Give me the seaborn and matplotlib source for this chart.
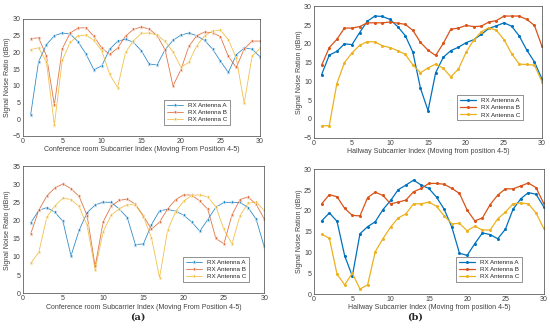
import numpy as np
import seaborn as sns
import matplotlib.pyplot as plt

sns.set_style("white")
plt.rcParams['font.family'] = ['Liberation Sans', 'DejaVu Sans']

# subcarrier index
idx = np.arange(1, 31)
labels = ['RX Antenna A', 'RX Antenna B', 'RX Antenna C']
colors = ['#0072BD', '#D95319', '#EDB120']

# conference room, top
conf1_a = [1.3, 17.2, 22.3, 25, 25.8, 25.5, 23.2, 19.5, 14.8, 16, 21, 23.3, 24, 23, 20.5,
           16.5, 16.3, 20.8, 23.6, 25.2, 25.8, 25, 23.6, 21, 17.4, 14, 19.3, 21.3, 21, 18.7]
conf1_b = [24.1, 24.4, 19, 4.3, 21.1, 25.8, 27.3, 27.4, 24.8, 21.3, 19.4, 21.3, 24.9, 26.9, 27.6,
           27, 25, 20.8, 10, 14.8, 21.8, 25, 26.1, 25.9, 24.7, 18.8, 15.5, 21, 23.4, 23.4]
conf1_c = [20.8, 21.4, 17.1, -1.7, 17.6, 23, 25, 25.2, 23.6, 20.5, 13.4, 9.5, 20, 23.5, 25.7,
           25.8, 25.2, 23.3, 20.2, 15.6, 17, 22, 25, 26.4, 26.7, 23.8, 18.3, 4.8, 18.8, 21.2]

# hallway, top
hall1_a = [11.8, 17, 18, 20, 19.8, 23, 26, 27.4, 27.3, 26.5, 24.6, 22.2, 17.8, 8.2, 2.2,
           12.3, 16.4, 18.2, 19.1, 20.3, 21.1, 22.5, 24.1, 24.8, 25.6, 24.7, 22.1, 18.3, 15.2, 10.6]
hall1_b = [14.3, 19, 21.2, 24.2, 24.2, 24.6, 25.6, 25.6, 25.6, 25.8, 25.5, 25.2, 23.6, 20.4, 18.3,
           16.9, 20.1, 23.9, 24.2, 24.9, 24.6, 24.7, 25.8, 26.2, 27.4, 27.4, 27.4, 26.5, 24.9, 19.3]
hall1_c = [-1.8, -1.8, 9.4, 15, 17.6, 19.6, 20.6, 20.5, 19.5, 19, 18.2, 17.2, 14.4, 12.3, 13.6,
           14.6, 13.5, 11.2, 13.3, 17.7, 21, 23.2, 24.3, 23.6, 21.1, 17.4, 14.6, 14.5, 14.3, 9.9]

# conference room, bottom
conf2_a = [19.4, 22.8, 23.6, 22.3, 19.8, 10.3, 17.3, 22.2, 24.3, 25.1, 25, 23.2, 20.8, 13.4, 13.6,
           18.9, 22.7, 23.1, 22.6, 21.5, 19.6, 17.1, 20.3, 23.7, 25, 25, 25, 23.6, 20.4, 12.9]
conf2_b = [16.4, 22.9, 26.8, 29, 30.1, 28.8, 26.7, 21.4, 7.4, 19.7, 24, 25.6, 25.9, 24.5, 21.3,
           17.6, 19.6, 23.2, 25.8, 27.1, 27, 25.4, 23.1, 15.1, 13.6, 21.6, 25.8, 26.5, 24.5, 20.5]
conf2_c = [8.3, 11.3, 21, 24.1, 26.2, 25.8, 23.9, 18.7, 6.5, 17, 21.5, 23.3, 24.4, 24.3, 21.1,
           15.3, 4.3, 17.3, 22.5, 25.4, 26.9, 27.1, 26.5, 23.8, 17.6, 13.6, 21.4, 24.8, 25.1, 22.8]

# hallway, bottom
hall2_a = [17.6, 19.5, 17.5, 9.2, 4.3, 14.5, 16.2, 17.4, 20.3, 22.5, 25.1, 26.2, 27.4, 26.2, 25.4,
           23.3, 20.4, 16.1, 9.8, 9.3, 12.1, 14.7, 14.3, 13.3, 15.6, 20.4, 22.9, 24.4, 24, 21]
hall2_b = [21.7, 23.9, 23.4, 20.6, 18.9, 18.8, 23.2, 24.5, 23.7, 21.7, 22.1, 22.6, 24.6, 25.4, 26.6,
           26.6, 26.4, 25.4, 24.2, 20.2, 17.6, 18.3, 21.5, 23.8, 25.3, 25.3, 26, 26.7, 25.6, 21.8]
hall2_c = [14.4, 13.4, 4.8, 2.2, 5, 1.2, 2.2, 10.2, 13.3, 16.1, 18.3, 19.3, 21.7, 21.7, 22.1,
           21.1, 18.8, 16.9, 17, 15.2, 16.3, 15.4, 15.4, 18.1, 19.7, 21.7, 21.9, 21.7, 19.5, 15.8]

conf_xlabel = 'Conference room Subcarrier Index (Moving From Position 4-5)'
hall_xlabel = 'Hallway Subcarrier Index (Moving from position 4-5)'

panels = [
    # axes rect, series, ylim, yticks, xlabel, ylabel, marker, legend anchor
    ([0.0413, 0.5916, 0.4314, 0.3514], [conf1_a, conf1_b, conf1_c], (-5, 30), range(-5, 31, 5),
     conf_xlabel, 'Signal Noise Ratio (dBm)', '*', (0.886, 0.068)),
    ([0.571, 0.5865, 0.4145, 0.3946], [hall1_a, hall1_b, hall1_c], (-5, 30), range(-5, 31, 5),
     hall_xlabel, 'Signal Noise Ration (dBm)', 'o', (0.93, 0.11)),
    ([0.0413, 0.1192, 0.439, 0.382], [conf2_a, conf2_b, conf2_c], (0, 35), range(0, 36, 5),
     conf_xlabel, 'Signal Noise Ratio (dBm)', '*', (0.949, 0.065)),
    ([0.571, 0.1171, 0.4175, 0.3745], [hall2_a, hall2_b, hall2_c], (0, 30), range(0, 31, 5),
     hall_xlabel, 'Signal Noise Ration (dBm)', 'o', (0.919, 0.072)),
]

fig = plt.figure(figsize=(5.5, 3.33), dpi=100)

for rect, series, ylim, yticks, xlabel, ylabel, marker, anchor in panels:
    ax = fig.add_axes(rect)
    for vals, lab, col in zip(series, labels, colors):
        if marker == 'o':
            sns.lineplot(x=idx, y=vals, ax=ax, color=col, label=lab, marker='o',
                         markersize=2.2, markeredgewidth=0, linewidth=0.9)
        else:
            sns.lineplot(x=idx, y=vals, ax=ax, color=col, label=lab, marker='*',
                         markersize=3.6, markeredgewidth=0.4, linewidth=0.6, alpha=0.8)
    ax.set_xlim(0, 30)
    ax.set_ylim(*ylim)
    ax.set_xticks(range(0, 31, 5))
    ax.set_yticks(list(yticks))
    ax.tick_params(labelsize=5, length=2, width=0.4, colors='#404040', direction='in', pad=1.5)
    ax.set_xlabel(xlabel, fontsize=5, color='#404040', labelpad=1)
    ax.set_ylabel(ylabel, fontsize=5, color='#404040', labelpad=1)
    for s in ax.spines.values():
        s.set_linewidth(0.5)
        s.set_color('#404040')
    leg = ax.legend(loc='lower right', bbox_to_anchor=anchor, fontsize=4.5, frameon=True,
                    fancybox=False, edgecolor='#404040', handlelength=2.6, borderpad=0.4,
                    labelspacing=0.3)
    leg.get_frame().set_linewidth(0.5)

fig.text(0.251, 0.04, '(a)', fontsize=7, fontweight='bold', family='DejaVu Serif', ha='center')
fig.text(0.755, 0.04, '(b)', fontsize=7, fontweight='bold', family='DejaVu Serif', ha='center')

fig.savefig('out.png', dpi=100)
